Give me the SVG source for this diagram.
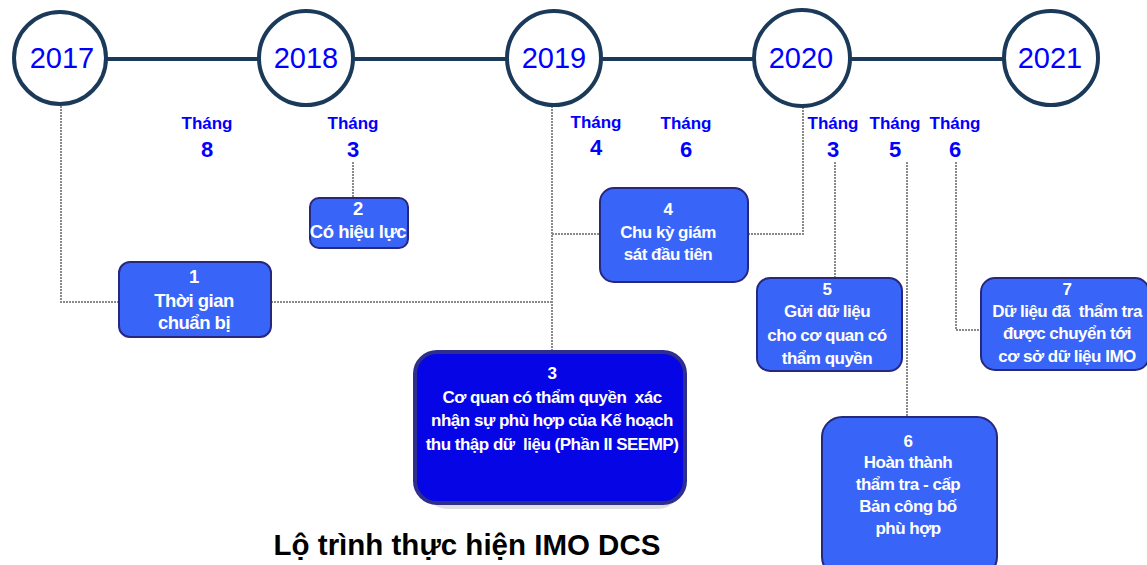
<svg xmlns="http://www.w3.org/2000/svg" width="1147" height="565" viewBox="0 0 1147 565">
<style>
.yr{fill:#fff;stroke:#1b3a5a;stroke-width:4}
.yt{font-family:"Liberation Sans",Arial,sans-serif;font-size:29px;fill:#0000ff;text-anchor:middle}
.mo{font-family:"Liberation Sans",Arial,sans-serif;font-weight:bold;fill:#0000ff;text-anchor:middle}
.mo .t{font-size:17px}
.mo .n{font-size:22px}
.bx{fill:#3864f8;stroke:#27277f;stroke-width:2}
.bx3{fill:#0505e6;stroke:#2e2e8c;stroke-width:4}
.bt{font-family:"Liberation Sans",Arial,sans-serif;font-weight:bold;font-size:17px;fill:#fff;text-anchor:middle;letter-spacing:-0.5px}
.bt.lg{font-size:18.5px}
.dot{fill:none;stroke:#8a8a8a;stroke-width:2;stroke-dasharray:2 1}
.ttl{font-family:"Liberation Sans",Arial,sans-serif;font-weight:bold;font-size:29.5px;fill:#000;text-anchor:middle}
</style>
<rect width="1147" height="565" fill="#fff"/>
<g id="connectors">
<line x1="60" y1="59" x2="1051" y2="59" stroke="#1b3a5a" stroke-width="4"/>
<path class="dot" d="M61,106 V302 H119"/>
<path class="dot" d="M271,302 H552"/>
<path class="dot" d="M552,106 V351"/>
<path class="dot" d="M552,234 H600"/>
<path class="dot" d="M748,234 H803 V107"/>
<path class="dot" d="M353,162 V197"/>
<path class="dot" d="M835,162 V278"/>
<path class="dot" d="M907,162 V417"/>
<path class="dot" d="M956,162 V330 H981"/>
</g>
<g id="y2017"><circle class="yr" cx="60" cy="58" r="46"/><text class="yt" x="62" y="68">2017</text></g>
<g id="y2018"><circle class="yr" cx="306" cy="58" r="47"/><text class="yt" x="306" y="68">2018</text></g>
<g id="y2019"><circle class="yr" cx="554" cy="58" r="47"/><text class="yt" x="554" y="68">2019</text></g>
<g id="y2020"><circle class="yr" cx="802" cy="58" r="48"/><text class="yt" x="801" y="68">2020</text></g>
<g id="y2021"><circle class="yr" cx="1051" cy="58" r="47"/><text class="yt" x="1050" y="68">2021</text></g>
<g id="m8" class="mo"><text class="t" x="207" y="129">Tháng</text><text class="n" x="207" y="157">8</text></g>
<g id="m3a" class="mo"><text class="t" x="353" y="129">Tháng</text><text class="n" x="353" y="157">3</text></g>
<g id="m4" class="mo"><text class="t" x="596" y="128">Tháng</text><text class="n" x="596" y="155">4</text></g>
<g id="m6a" class="mo"><text class="t" x="686" y="129">Tháng</text><text class="n" x="686" y="157">6</text></g>
<g id="m3b" class="mo"><text class="t" x="833" y="129">Tháng</text><text class="n" x="833" y="157">3</text></g>
<g id="m5" class="mo"><text class="t" x="895" y="129">Tháng</text><text class="n" x="895" y="157">5</text></g>
<g id="m6b" class="mo"><text class="t" x="955" y="129">Tháng</text><text class="n" x="955" y="157">6</text></g>
<g id="box1"><rect class="bx" x="119" y="262" width="152" height="75" rx="11"/>
<text class="bt lg" x="194" y="283">1</text><text class="bt lg" x="194" y="307">Thời gian</text><text class="bt lg" x="194" y="329">chuẩn bị</text></g>
<g id="box2"><rect class="bx" x="310" y="198" width="98" height="50" rx="9"/>
<text class="bt lg" x="358" y="215">2</text><text class="bt lg" x="358" y="238">Có hiệu lực</text></g>
<g id="box3"><rect x="425" y="360" width="255" height="149" rx="22" fill="#c8c8d0" opacity="0.6"/><rect class="bx3" x="415" y="352" width="270" height="151" rx="22"/>
<text class="bt" x="552" y="379">3</text>
<text class="bt" x="552" y="403" xml:space="preserve">Cơ quan có thẩm quyền  xác</text>
<text class="bt" x="552" y="426">nhận sự phù hợp của Kế hoạch</text>
<text class="bt" x="552" y="450" xml:space="preserve">thu thập dữ  liệu (Phần II SEEMP)</text></g>
<g id="box4"><rect class="bx" x="600" y="188" width="148" height="94" rx="14"/>
<text class="bt" x="668" y="215">4</text><text class="bt" x="668" y="238">Chu kỳ giám</text><text class="bt" x="668" y="260">sát đầu tiên</text></g>
<g id="box5"><rect class="bx" x="757" y="278" width="145" height="93" rx="13"/>
<text class="bt" x="827" y="295">5</text><text class="bt" x="827" y="317">Gửi dữ liệu</text><text class="bt" x="827" y="341">cho cơ quan có</text><text class="bt" x="827" y="364">thẩm quyền</text></g>
<g id="box6"><rect class="bx" x="822" y="417" width="175" height="160" rx="20"/>
<text class="bt" x="908" y="447">6</text><text class="bt" x="908" y="468">Hoàn thành</text><text class="bt" x="908" y="490">thẩm tra - cấp</text><text class="bt" x="908" y="512">Bản công bố</text><text class="bt" x="908" y="534">phù hợp</text></g>
<g id="box7"><rect class="bx" x="981" y="278" width="168" height="92" rx="14"/>
<text class="bt" x="1067" y="295">7</text><text class="bt" x="1067" y="317" xml:space="preserve">Dữ liệu đã  thẩm tra</text><text class="bt" x="1067" y="339">được chuyển tới</text><text class="bt" x="1067" y="362">cơ sở dữ liệu IMO</text></g>
<g id="title"><text class="ttl" x="467" y="555">Lộ trình thực hiện IMO DCS</text></g>
</svg>
